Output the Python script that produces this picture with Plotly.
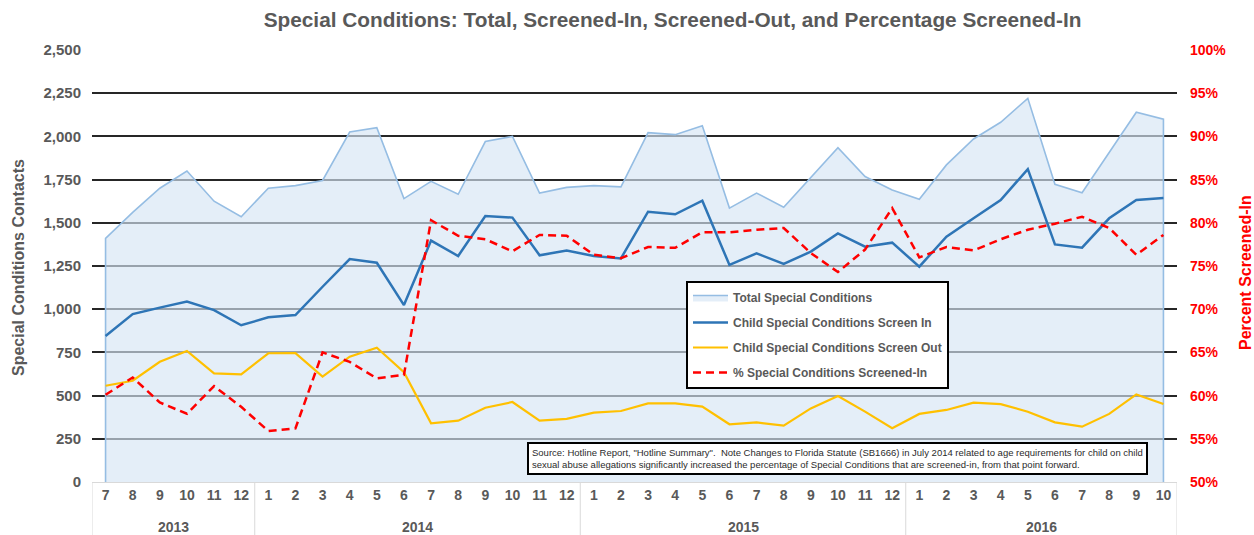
import plotly.graph_objects as go

# ---- data ----
years = ["2013"] * 6 + ["2014"] * 12 + ["2015"] * 12 + ["2016"] * 10
months = ([str(m) for m in range(7, 13)] + [str(m) for m in range(1, 13)]
          + [str(m) for m in range(1, 13)] + [str(m) for m in range(1, 11)])

total = [1410, 1560, 1700, 1800, 1625, 1535,
         1700, 1715, 1745, 2025, 2050, 1640, 1740, 1665, 1970, 2000, 1672, 1705,
         1715, 1708, 2022, 2010, 2062, 1585, 1672, 1590, 1760, 1935, 1768, 1690,
         1636, 1835, 1985, 2082, 2220, 1723, 1674, 1910, 2140, 2100]
screen_in = [845, 972, 1009, 1044, 995, 907,
             953, 966, 1130, 1290, 1269, 1024, 1397, 1308, 1539, 1530, 1312, 1339,
             1308, 1294, 1564, 1549, 1628, 1256, 1323, 1262, 1333, 1439, 1362, 1385,
             1246, 1420, 1526, 1632, 1811, 1375, 1356, 1526, 1632, 1644]
screen_out = [557, 586, 696, 758, 629, 623,
              745, 746, 610, 725, 777, 635, 340, 355, 430, 463, 355, 365,
              401, 411, 455, 455, 436, 334, 345, 326, 426, 498, 407, 311,
              394, 417, 459, 451, 407, 345, 320, 394, 507, 451]
pct_in = [60.1, 62.1, 59.2, 57.9, 61.1, 58.7,
          55.9, 56.2, 65.0, 63.9, 62.0, 62.4, 80.3, 78.5, 78.1, 76.7, 78.6, 78.5,
          76.3, 75.9, 77.2, 77.1, 78.9, 78.9, 79.2, 79.4, 76.5, 74.3, 76.9, 81.7,
          76.0, 77.2, 76.8, 78.1, 79.2, 79.9, 80.7, 79.4, 76.3, 78.6]

names = ["Total Special Conditions", "Child Special Conditions Screen In",
         "Child Special Conditions Screen Out", "% Special Conditions Screened-In"]

title_text = "Special Conditions: Total, Screened-In, Screened-Out, and Percentage Screened-In"
left_title = "Special Conditions Contacts"
right_title = "Percent Screened-In"
source_text = ("Source: Hotline Report, \"Hotline Summary\".  Note Changes to Florida Statute (SB1666) in July 2014 "
               "related to age requirements for child on child<br>sexual abuse allegations significantly increased "
               "the percentage of Special Conditions that are screened-in, from that point forward.")

FONT = "Liberation Sans, Arial, sans-serif"
GRAY = "#595959"
RED = "#FF0000"
DIV = "#d9d9d9"

idx = list(range(len(months)))
# area outline closed down to the baseline at both ends (Excel-style area edge)
area_x = [idx[0]] + idx + [idx[-1]]
area_y = [0] + total + [0]

# year groups (computed from the years list)
groups = []
for i, yv in enumerate(years):
    if not groups or groups[-1][0] != yv:
        groups.append([yv, i, i])
    else:
        groups[-1][2] = i

fig = go.Figure()
fig.add_trace(go.Scatter(
    x=area_x, y=area_y, name=names[0], mode="lines", fill="tozeroy",
    fillcolor="rgba(214,229,244,0.65)", line=dict(color="#95BDE3", width=1.6),
    legendgroup="g1"))
fig.add_trace(go.Scatter(
    x=idx, y=screen_in, name=names[1], mode="lines",
    line=dict(color="#2E75B6", width=2.5), legendgroup="g2"))
fig.add_trace(go.Scatter(
    x=idx, y=screen_out, name=names[2], mode="lines",
    line=dict(color="#FFC000", width=2.2), legendgroup="g3"))
fig.add_trace(go.Scatter(
    x=idx, y=pct_in, name=names[3], mode="lines", yaxis="y2",
    line=dict(color=RED, width=2.5, dash="8px,5px"), legendgroup="g4"))

shapes = []
bounds = [g[1] - 0.5 for g in groups] + [groups[-1][2] + 0.5]
for b in bounds:
    shapes.append(dict(type="line", xref="x", yref="paper", x0=b, x1=b, y0=0, y1=-60 / 432,
                       line=dict(color=DIV, width=1)))

annotations = []
for name, a, b in groups:
    annotations.append(dict(text=name, xref="x", yref="paper", x=(a + b) / 2, y=0,
                            yshift=-45, showarrow=False, xanchor="center", yanchor="middle",
                            font=dict(family=FONT, size=14, color=GRAY, weight="bold")))
annotations += [
    dict(text=left_title, xref="paper", yref="paper", x=0, y=0.5, xshift=-74,
         yshift=-2, textangle=-90, showarrow=False, xanchor="center", yanchor="middle",
         font=dict(family=FONT, size=16, color=GRAY, weight="bold")),
    dict(text=right_title, xref="paper", yref="paper", x=1, y=0.5, xshift=1245 - 1177,
         yshift=-7, textangle=-90, showarrow=False, xanchor="center", yanchor="middle",
         font=dict(family=FONT, size=16, color=RED, weight="bold")),
    dict(text=source_text, xref="paper", yref="paper", x=(837 - 92) / 1085,
         y=(482 - 458) / 432, xanchor="center", yanchor="middle", showarrow=False,
         align="left", bgcolor="white", bordercolor="black", borderwidth=2,
         borderpad=3, font=dict(family=FONT, size=9.5, color="#2b2b2b")),
]

fig.update_layout(
    width=1254, height=535,
    template="none",
    paper_bgcolor="white", plot_bgcolor="white",
    margin=dict(l=92, r=77, t=50, b=53, autoexpand=False),
    font=dict(family=FONT, color=GRAY),
    title=dict(text=title_text, x=671 / 1254, xref="paper", xanchor="center",
               y=1 - 20 / 535, yref="container", yanchor="middle",
               font=dict(family=FONT, size=20.8, color=GRAY, weight="bold")),
    xaxis=dict(range=[-0.5, len(months) - 0.5], tickmode="array", tickvals=idx, ticktext=months,
               showline=True, linecolor=DIV, linewidth=1,
               showgrid=False, zeroline=False, ticks="", automargin=False,
               tickfont=dict(family=FONT, size=14, color=GRAY, weight="bold")),
    yaxis=dict(range=[0, 2500], dtick=250, tickformat=",", showgrid=True,
               gridcolor="#262626", gridwidth=1.5, zeroline=False, showline=False,
               ticks="", ticklabelstandoff=10, automargin=False,
               tickfont=dict(family=FONT, size=15, color=GRAY, weight="bold")),
    yaxis2=dict(range=[50, 100], dtick=5, ticksuffix="%", overlaying="y", side="right",
                showgrid=False, zeroline=False, showline=False, ticks="",
                ticklabelstandoff=12, automargin=False,
                tickfont=dict(family=FONT, size=14, color=RED, weight="bold")),
    showlegend=True,
    legend=dict(x=(686 - 92) / 1085, y=(482 - 281) / 432, xanchor="left", yanchor="top",
                bgcolor="white", bordercolor="black", borderwidth=2,
                traceorder="grouped", tracegroupgap=6, itemwidth=35,
                font=dict(family=FONT, size=12, color=GRAY, weight="bold")),
    shapes=shapes,
    annotations=annotations,
)

fig.write_html("out.html", config={"displayModeBar": False},
               post_script="document.body.style.margin='0';")
